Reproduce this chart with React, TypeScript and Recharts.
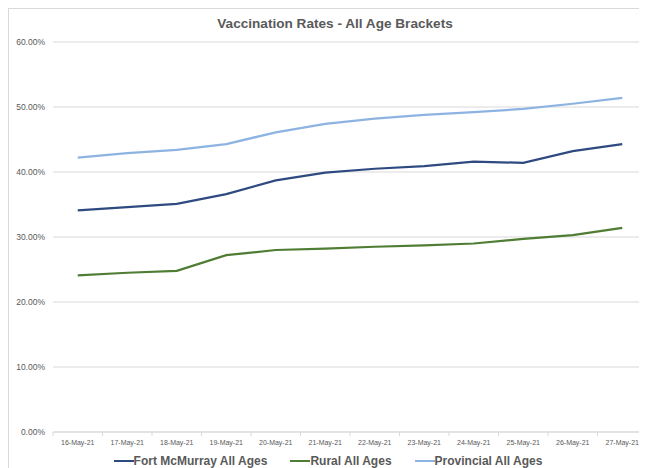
import { LineChart, Line, XAxis, YAxis, CartesianGrid, Legend } from "recharts";

const DATES = [
  "16-May-21", "17-May-21", "18-May-21", "19-May-21", "20-May-21", "21-May-21",
  "22-May-21", "23-May-21", "24-May-21", "25-May-21", "26-May-21", "27-May-21",
];
const FORT_MCMURRAY = [34.1, 34.6, 35.1, 36.6, 38.7, 39.9, 40.5, 40.9, 41.6, 41.4, 43.2, 44.3];
const RURAL = [24.1, 24.5, 24.8, 27.2, 28.0, 28.2, 28.5, 28.7, 29.0, 29.7, 30.3, 31.4];
const PROVINCIAL = [42.2, 42.9, 43.4, 44.3, 46.1, 47.4, 48.2, 48.8, 49.2, 49.7, 50.5, 51.4];
const Y_TICKS = [0, 10, 20, 30, 40, 50, 60];

const DARK_BLUE = "#2F4A80";
const GREEN = "#4F7D34";
const LIGHT_BLUE = "#8DB3E2";
const TEXT_GRAY = "#595959";
const GRID = "#d9d9d9";
const FONT = "'Liberation Sans', Arial, sans-serif";

const data = DATES.map((d, i) => ({
  date: d,
  fort: FORT_MCMURRAY[i],
  rural: RURAL[i],
  prov: PROVINCIAL[i],
}));

// Excel puts tick marks between categories, so draw them at the band edges
function DateTick(props: any) {
  const { x, y, payload, index } = props;
  const half = payload.offset ?? 0;
  return (
    <g>
      <line x1={x - half} y1={y - 8} x2={x - half} y2={y - 4} stroke={GRID} />
      {index === DATES.length - 1 && (
        <line x1={x + half} y1={y - 8} x2={x + half} y2={y - 4} stroke={GRID} />
      )}
      <text x={x} y={y + 5} textAnchor="middle" fontSize={7} fill={TEXT_GRAY} fontFamily={FONT}>
        {payload.value}
      </text>
    </g>
  );
}

function LegendContent() {
  const items = [
    { name: "Fort McMurray All Ages", color: DARK_BLUE },
    { name: "Rural All Ages", color: GREEN },
    { name: "Provincial All Ages", color: LIGHT_BLUE },
  ];
  return (
    <div style={{ display: "flex", justifyContent: "center", gap: 23, fontFamily: FONT }}>
      {items.map((it) => (
        <div key={it.name} style={{ display: "flex", alignItems: "center" }}>
          <span style={{ display: "inline-block", width: 20, height: 2.5, background: it.color }} />
          <span style={{ fontSize: 12, fontWeight: 700, color: TEXT_GRAY, lineHeight: "14px" }}>{it.name}</span>
        </div>
      ))}
    </div>
  );
}

export default function App() {
  return (
    <div
      style={{
        position: "relative",
        width: 639,
        height: 460,
        boxSizing: "border-box",
        borderLeft: `1px solid ${GRID}`,
        borderTop: `1px solid ${GRID}`,
        overflow: "hidden",
        background: "#fff",
      }}
    >
      <div
        style={{
          position: "absolute",
          left: 0,
          width: 652,
          top: 7,
          textAlign: "center",
          fontFamily: FONT,
          fontWeight: 700,
          fontSize: 13.6,
          color: TEXT_GRAY,
        }}
      >
        Vaccination Rates - All Age Brackets
      </div>
      <LineChart width={638} height={459} data={data} margin={{ top: 33, right: 0, bottom: 0, left: 0 }}>
        <CartesianGrid vertical={false} stroke={GRID} />
        <XAxis
          dataKey="date"
          scale="band"
          stroke={GRID}
          tickLine={false}
          tick={<DateTick />}
          height={22}
          interval={0}
        />
        <YAxis
          domain={[0, 60]}
          ticks={Y_TICKS}
          width={44}
          axisLine={false}
          tickLine={false}
          tick={{ fontSize: 8.5, fill: TEXT_GRAY, fontFamily: FONT }}
          tickFormatter={(v: number) => `${v.toFixed(2)}%`}
        />
        <Legend verticalAlign="bottom" height={14} content={<LegendContent />} />
        <Line dataKey="fort" name="Fort McMurray All Ages" stroke={DARK_BLUE} strokeWidth={2.25} dot={false} isAnimationActive={false} />
        <Line dataKey="rural" name="Rural All Ages" stroke={GREEN} strokeWidth={2.25} dot={false} isAnimationActive={false} />
        <Line dataKey="prov" name="Provincial All Ages" stroke={LIGHT_BLUE} strokeWidth={2.25} dot={false} isAnimationActive={false} />
      </LineChart>
    </div>
  );
}
